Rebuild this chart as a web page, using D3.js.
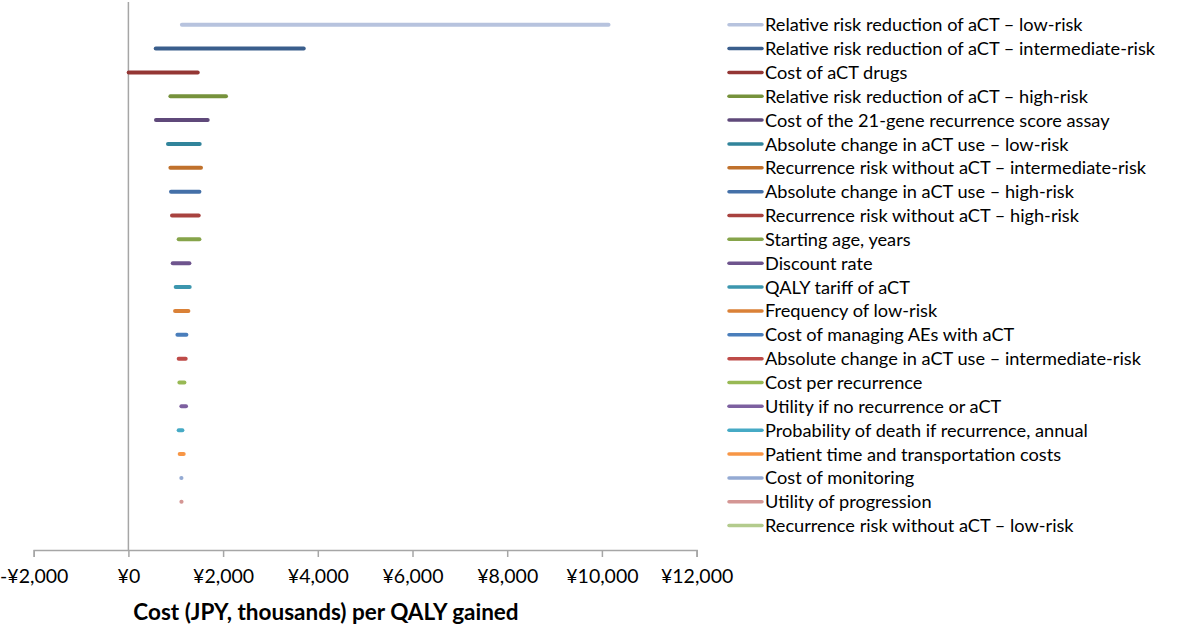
<!DOCTYPE html>
<html>
<head>
<meta charset="utf-8">
<script src="https://cdn.jsdelivr.net/npm/d3@7"></script>
<style>
  html, body { margin: 0; padding: 0; background: #fff; }
  svg { display: block; }
  text { font-family: Lato, "Open Sans", sans-serif; fill: #000; }
</style>
</head>
<body>
<svg id="chart" width="1200" height="626"></svg>
<script>
// ---- data ----
const parameters = [
  "Relative risk reduction of aCT \u2013 low-risk",
  "Relative risk reduction of aCT \u2013 intermediate-risk",
  "Cost of aCT drugs",
  "Relative risk reduction of aCT \u2013 high-risk",
  "Cost of the 21-gene recurrence score assay",
  "Absolute change in aCT use \u2013 low-risk",
  "Recurrence risk without aCT \u2013 intermediate-risk",
  "Absolute change in aCT use \u2013 high-risk",
  "Recurrence risk without aCT \u2013 high-risk",
  "Starting age, years",
  "Discount rate",
  "QALY tariff of aCT",
  "Frequency of low-risk",
  "Cost of managing AEs with aCT",
  "Absolute change in aCT use \u2013 intermediate-risk",
  "Cost per recurrence",
  "Utility if no recurrence or aCT",
  "Probability of death if recurrence, annual",
  "Patient time and transportation costs",
  "Cost of monitoring",
  "Utility of progression",
  "Recurrence risk without aCT \u2013 low-risk"
];
const lowValues  = [1130, 577,    6,  887,  583,  836,  887,  900,  921, 1062,  936,  999,  985, 1035, 1062, 1077, 1119, 1062, 1083, 1117, 1119, 1120];
const highValues = [10140, 3703, 1464, 2061, 1675, 1506, 1533, 1500, 1485, 1500, 1288, 1295, 1267, 1225, 1210, 1183, 1217, 1140, 1168, 1121, 1123, 1120];
const xTicks = [-2000, 0, 2000, 4000, 6000, 8000, 10000, 12000];
const xTitle = "Cost (JPY, thousands) per QALY gained";

const palette = ["#B7C3DE","#3A5E8C","#943634","#76923C","#5F497A","#31849B","#C0712C",
  "#4470A8","#A8423F","#86A44A","#6E548D","#3C96AE","#DA8137","#4A7EBB","#BE4B48",
  "#98B954","#7D60A0","#46AAC5","#F79646","#94AAD3","#D49694","#B3CB8D"];

// ---- layout ----
const svg = d3.select("#chart");
const x = d3.scaleLinear().domain([-2000, 12000]).range([33.7, 696.6]);
const y = d3.scalePoint().domain(parameters).range([24.7, 525.6]);
const color = d3.scaleOrdinal().domain(parameters).range(palette);
const axisY = 550;

const rows = parameters.map((p, i) => ({ name: p, lo: lowValues[i], hi: highValues[i] }));

// vertical zero line
svg.append("line")
  .attr("x1", x(0)).attr("x2", x(0))
  .attr("y1", 2).attr("y2", axisY)
  .attr("stroke", "#A6A6A6").attr("stroke-width", 1.5);

// x axis
const axis = svg.append("g")
  .attr("transform", `translate(0,${axisY})`)
  .call(d3.axisBottom(x).tickValues(xTicks).tickSize(7).tickPadding(12)
    .tickFormat(d => (d < 0 ? "-\u00A5" : "\u00A5") + d3.format(",")(Math.abs(d))));
axis.select(".domain").attr("stroke", "#A6A6A6").attr("stroke-width", 1.5);
axis.selectAll(".tick line").attr("stroke", "#A6A6A6").attr("stroke-width", 1.5);
axis.selectAll(".tick text").attr("font-size", 19.5).attr("fill", "#000")
  .attr("font-family", "Lato, 'Open Sans', sans-serif");

// axis title
svg.append("text")
  .attr("x", 326).attr("y", 620)
  .attr("text-anchor", "middle")
  .attr("font-size", 22.5).attr("font-weight", "bold")
  .text(xTitle);

// range bars
svg.append("g").selectAll("line")
  .data(rows.filter(d => d.hi > d.lo))
  .join("line")
  .attr("x1", d => x(d.lo)).attr("x2", d => x(d.hi))
  .attr("y1", d => y(d.name)).attr("y2", d => y(d.name))
  .attr("stroke", d => color(d.name))
  .attr("stroke-width", 4)
  .attr("stroke-linecap", "round");

// legend
const leg = svg.append("g").selectAll("g")
  .data(rows)
  .join("g")
  .attr("transform", d => `translate(0,${y(d.name)})`);
leg.append("line")
  .attr("x1", 729).attr("x2", 762)
  .attr("stroke", d => color(d.name))
  .attr("stroke-width", 3.5)
  .attr("stroke-linecap", "round");
leg.append("text")
  .attr("x", 765).attr("dy", "0.36em")
  .attr("font-size", 18.2)
  .text(d => d.name);
</script>
</body>
</html>
